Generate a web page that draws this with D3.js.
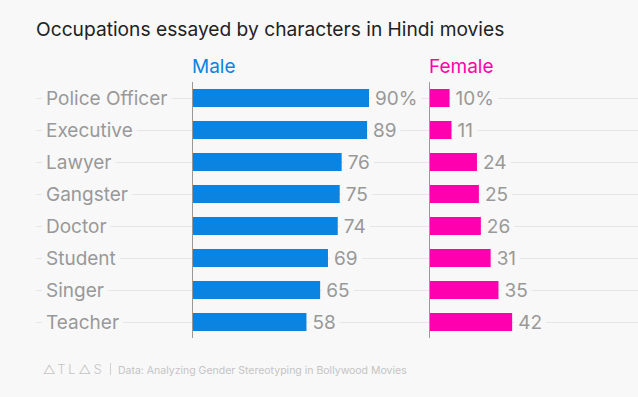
<!DOCTYPE html>
<html>
<head>
<meta charset="utf-8">
<script src="https://cdn.jsdelivr.net/npm/d3@7"></script>
<style>
  body { margin: 0; background: #f8f8f8; }
  svg { display: block; font-family: "Inter", "Roboto", sans-serif; }
</style>
</head>
<body>
<svg id="chart" width="638" height="397"></svg>
<script>
const occupations = ["Police Officer", "Executive", "Lawyer", "Gangster", "Doctor", "Student", "Singer", "Teacher"];
const maleShare = [90, 89, 76, 75, 74, 69, 65, 58];
const femaleShare = [10, 11, 24, 25, 26, 31, 35, 42];

const bg = "#f8f8f8";
const maleColor = "#0b83e0";
const femaleColor = "#ff00ae";
const grey = "#999";

const svg = d3.select("#chart");
svg.append("rect").attr("width", 638).attr("height", 397).attr("fill", bg);

const y = d3.scaleBand()
    .domain(occupations)
    .range([82, 338])
    .paddingInner(0.4375)
    .paddingOuter(0.21875);

// same share scale for both panels
const x = d3.scaleLinear().domain([0, 100]).range([0, 195.6]);
const maleX = 193, femaleX = 430;

// row gridlines
const grid = svg.append("g");
grid.selectAll("line")
    .data(occupations)
    .join("line")
    .attr("x1", 36).attr("x2", 638)
    .attr("y1", d => y(d) + y.bandwidth() / 2 + 0.5)
    .attr("y2", d => y(d) + y.bandwidth() / 2 + 0.5)
    .attr("stroke", "#e6e6e6");

// text with a background box that hides the gridline
function maskedText(g, tx, ty, str, opts) {
    const t = g.append("text")
        .attr("x", tx).attr("y", ty)
        .attr("dy", "0.35em")
        .attr("font-size", opts.size)
        .attr("fill", opts.color)
        .text(str);
    const b = t.node().getBBox();
    g.insert("rect", "text")
        .attr("x", b.x - 4).attr("y", b.y)
        .attr("width", b.width + 8).attr("height", b.height)
        .attr("fill", bg);
    return t;
}

const labels = svg.append("g");
occupations.forEach(d => {
    const g = labels.append("g");
    maskedText(g, 46, y(d) + y.bandwidth() / 2, d, {size: 19, color: grey});
});

function panel(x0, values, color, name) {
    const g = svg.append("g");
    g.append("text")
        .attr("x", x0 - 1).attr("y", 73)
        .attr("font-size", 19)
        .attr("fill", color)
        .text(name);

    g.selectAll("rect.bar")
        .data(values)
        .join("rect")
        .attr("class", "bar")
        .attr("x", x0)
        .attr("y", (v, i) => y(occupations[i]))
        .attr("width", v => x(v))
        .attr("height", y.bandwidth())
        .attr("fill", color);

    values.forEach((v, i) => {
        const lg = g.append("g");
        maskedText(lg, x0 + x(v) + 6, y(occupations[i]) + y.bandwidth() / 2,
            i === 0 ? v + "%" : String(v), {size: 19, color: grey});
    });

    g.append("line")
        .attr("x1", x0 - 0.5).attr("x2", x0 - 0.5)
        .attr("y1", 82).attr("y2", 338)
        .attr("stroke", "#999");
}

panel(maleX, maleShare, maleColor, "Male");
panel(femaleX, femaleShare, femaleColor, "Female");

svg.append("text")
    .attr("x", 36).attr("y", 36)
    .attr("font-size", 19.2)
    .attr("fill", "#222")
    .text("Occupations essayed by characters in Hindi movies");

// footer
const foot = svg.append("g").attr("fill", "#c4c4c4").attr("font-size", 10.5);
foot.append("text").attr("x", 43).attr("y", 374)
    .attr("letter-spacing", 3).attr("font-weight", 300).attr("font-size", 12.5)
    .text("\u25B3TL\u25B3S");
foot.append("line").attr("x1", 110.5).attr("x2", 110.5).attr("y1", 363).attr("y2", 375)
    .attr("stroke", "#d0d0d0");
foot.append("text").attr("x", 118).attr("y", 374)
    .text("Data:  Analyzing Gender Stereotyping in Bollywood Movies");
</script>
</body>
</html>
